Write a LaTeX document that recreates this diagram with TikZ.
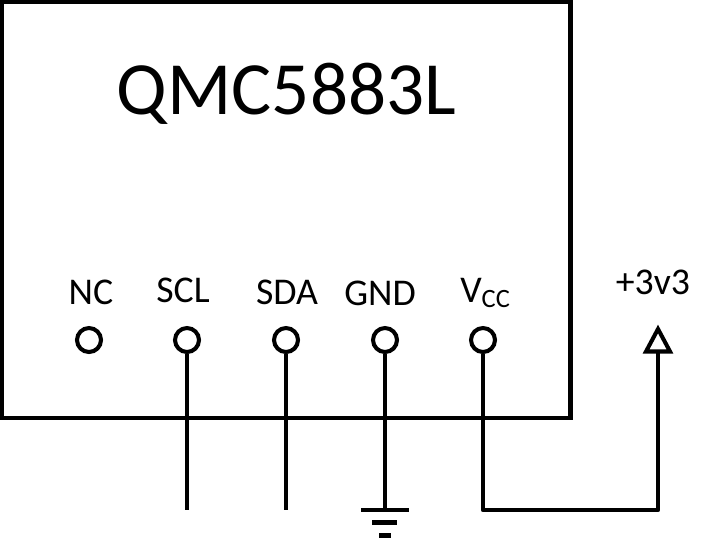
\documentclass[tikz,border=0pt]{standalone}
\usepackage{fontspec}
\setmainfont{Carlito}
\tikzset{
 x=0.02cm,y=-0.02cm,
 wire/.style={line width=2.6pt,black,line join=round},
 pin/.style={circle,draw=black,line width=2.3pt,fill=white,minimum size=0.48cm,inner sep=0pt},
 lab/.style={font=\fontsize{21.5}{24}\selectfont,inner sep=0pt,text=black},
 tri/.style={draw=black,line width=2.3pt,fill=white,line join=miter}
}
\begin{document}
\begin{tikzpicture}
\useasboundingbox (0,0) rectangle (715,538);
\fill[white] (0,0) rectangle (715,538);
\node[draw=black,line width=2.7pt,minimum width=11.374cm,minimum height=8.32cm,inner sep=0pt] (chip) at (286.35,210) {};
\node[lab,font=\fontsize{42.8}{50}\selectfont] (title) at (286.5,94) {QMC5883L};
\node[pin] (nc) at (89,340) {};
\node[pin] (scl) at (187,340) {};
\node[pin] (sda) at (286,340) {};
\node[pin] (gnd) at (385,340) {};
\node[pin] (vcc) at (483,340) {};
\node[lab] (nclab) at (91,292) {NC};
\node[lab] (scllab) at (183,290) {SCL};
\node[lab] (sdalab) at (287,292) {SDA};
\node[lab] (gndlab) at (380,293) {GND};
\node[lab] (vcclab) at (485.5,293) {V\textsubscript{CC}};
\node[lab] (pwrlab) at (653,282) {+3v3};
\coordinate (sclend) at (187,509.5);
\coordinate (sdaend) at (286,509.5);
\coordinate (gndend) at (385,509.5);
\coordinate (vccend) at (483,510);
\coordinate (rail) at (658,510);
\coordinate (tribase) at (658,351.5);
\draw[wire] (scl) -- (sclend);
\draw[wire] (sda) -- (sdaend);
\draw[wire] (gnd) -- (gndend);
\draw[wire] (vcc) -- (vccend) -- (rail) -- (tribase);
\draw[tri] (658,329) -- (670,351.5) -- (646,351.5) -- cycle;
\draw[wire] (361,510) -- (409,510);
\draw[wire] (372,522.7) -- (397,522.7);
\draw[wire] (379,535.7) -- (391,535.7);
\end{tikzpicture}
\end{document}
